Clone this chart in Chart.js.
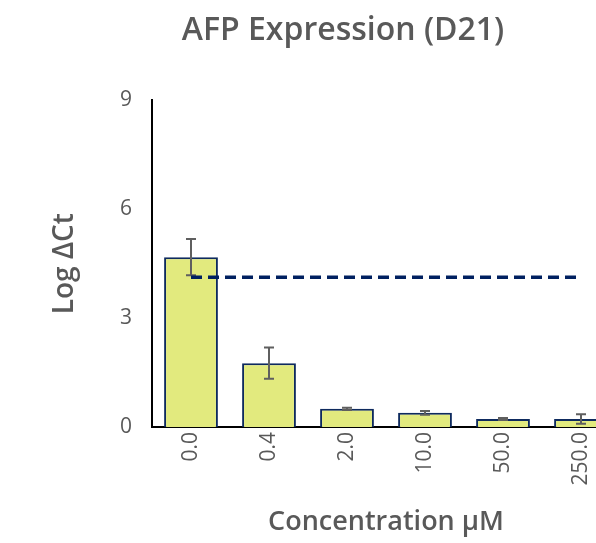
<!DOCTYPE html>
<html>
<head>
<meta charset="utf-8">
<script src="https://cdn.jsdelivr.net/npm/chart.js@4/dist/chart.umd.min.js"></script>
<style>
html,body{margin:0;padding:0;overflow:hidden;background:#fff;}
#wrap{width:686px;height:543px;}
</style>
</head>
<body>
<div id="wrap"><canvas id="c" width="686" height="543"></canvas></div>
<script>
const categories = ['0.0', '0.4', '2.0', '10.0', '50.0', '250.0'];
const logDeltaCt = [4.68, 1.76, 0.50, 0.39, 0.22, 0.22];
const errors = [0.50, 0.43, 0.03, 0.05, 0.03, 0.13];
const referenceLevel = [4.13, 4.13, 4.13, 4.13, 4.13, 4.13];
const yTicks = [0, 3, 6, 9];

const FONT = "'Open Sans', 'Noto Sans', sans-serif";
const GRAY = '#595959';

const errorBarPlugin = {
  id: 'errorBars',
  afterDatasetDraw(chart, args) {
    if (args.index !== 1) return;
    const ctx = chart.ctx;
    const y = chart.scales.y;
    ctx.save();
    ctx.strokeStyle = '#5f5f5f';
    ctx.lineWidth = 2;
    args.meta.data.forEach((bar, i) => {
      const v = logDeltaCt[i], e = errors[i];
      const yt = y.getPixelForValue(v + e);
      const yb = y.getPixelForValue(v - e);
      const x = bar.x;
      ctx.beginPath();
      ctx.moveTo(x, yt); ctx.lineTo(x, yb);
      ctx.moveTo(x - 5, yt); ctx.lineTo(x + 5, yt);
      ctx.moveTo(x - 5, yb); ctx.lineTo(x + 5, yb);
      ctx.stroke();
    });
    ctx.restore();
  }
};

new Chart(document.getElementById('c'), {
  data: {
    labels: categories,
    datasets: [
      {
        type: 'line',
        data: referenceLevel,
        borderColor: '#002060',
        borderWidth: 3.5,
        borderDash: [11, 6],
        pointRadius: 0,
        fill: false
      },
      {
        type: 'bar',
        data: logDeltaCt,
        backgroundColor: '#E2EA7E',
        borderColor: '#0E2A5E',
        borderWidth: 2,
        barPercentage: 0.69,
        categoryPercentage: 1.0
      }
    ]
  },
  options: {
    responsive: false,
    animation: false,
    layout: { padding: 0 },
    plugins: {
      legend: { display: false },
      tooltip: { enabled: false },
      title: {
        display: true,
        text: 'AFP Expression (D21)',
        color: GRAY,
        font: { family: FONT, size: 32, weight: '600' },
        padding: { top: 12, bottom: 50 }
      }
    },
    scales: {
      x: {
        grid: { display: false, drawTicks: false },
        border: { color: '#000', width: 2 },
        ticks: {
          color: GRAY,
          font: { family: FONT, size: 21 },
          minRotation: 90, maxRotation: 90,
          padding: 5
        },
        title: {
          display: true,
          text: 'Concentration µM',
          color: GRAY,
          font: { family: FONT, size: 27, weight: '600' },
          padding: { top: 0, bottom: 4 }
        },
        afterFit(s) { s.height = 543 - 427; }
      },
      y: {
        min: 0, max: 9,
        afterBuildTicks(s) { s.ticks = yTicks.map(v => ({ value: v })); },
        grid: { display: false, drawTicks: false },
        border: { color: '#000', width: 2 },
        ticks: {
          color: GRAY,
          font: { family: FONT, size: 21 },
          padding: 20
        },
        title: {
          display: true,
          text: 'Log ΔCt',
          color: GRAY,
          font: { family: FONT, size: 28, weight: '600' },
          padding: { top: 48, bottom: 0 }
        },
        afterFit(s) { s.width = 152; }
      },
      spacer: {
        position: 'right',
        display: true,
        grid: { display: false, drawTicks: false },
        border: { display: false },
        ticks: { display: false },
        afterFit(s) { s.width = 66; }
      }
    }
  },
  plugins: [errorBarPlugin]
});
</script>
</body>
</html>
